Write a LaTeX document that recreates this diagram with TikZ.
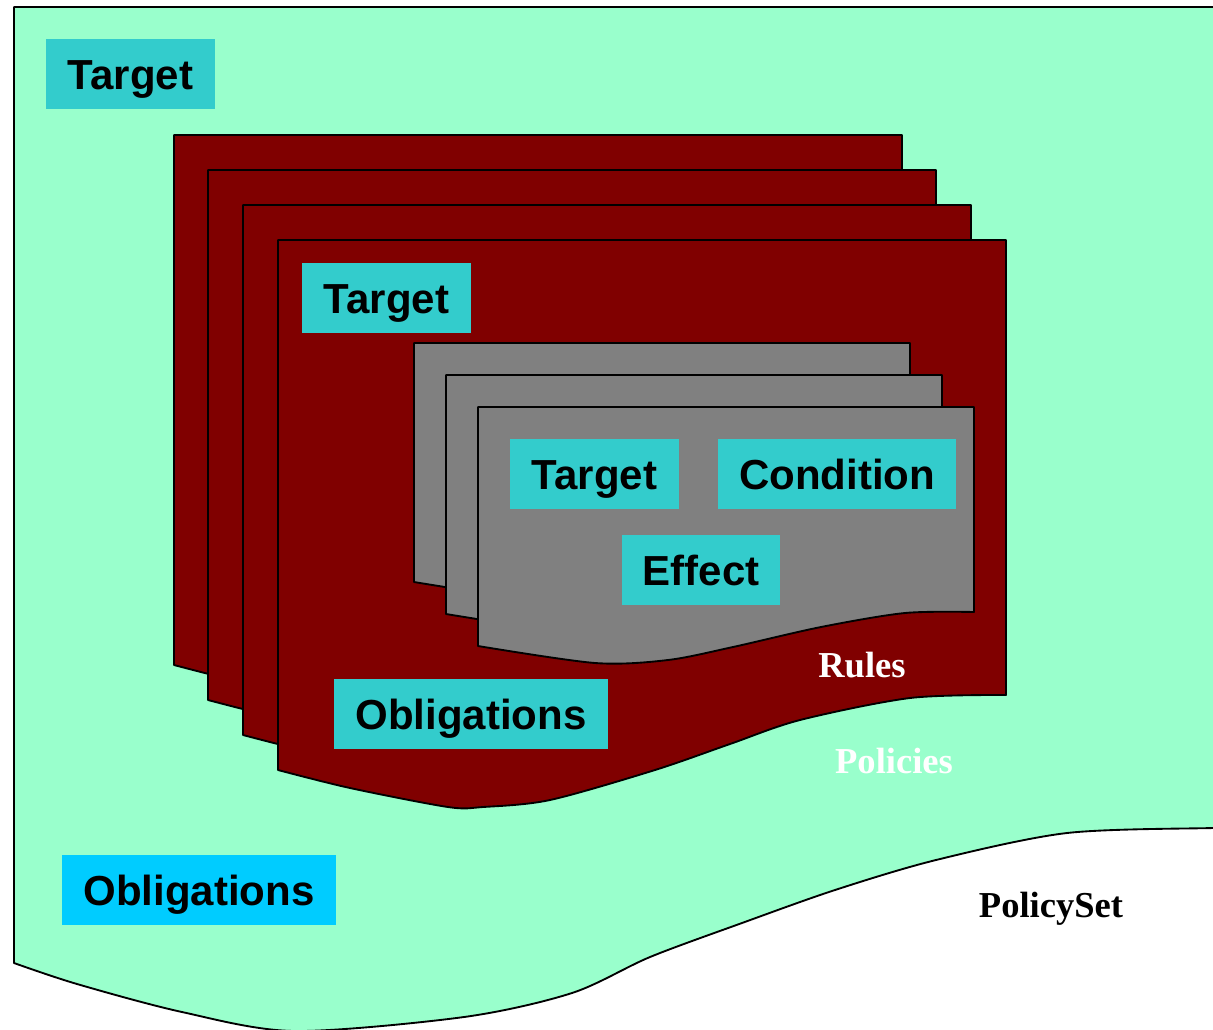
\documentclass[tikz,border=0pt]{standalone}
\usepackage{fontspec}
\setmainfont{Liberation Serif}
\newfontfamily\arialfont{Liberation Sans}
\definecolor{psetgreen}{HTML}{99FFCC}
\definecolor{polred}{HTML}{800000}
\definecolor{rulegrey}{HTML}{808080}
\definecolor{boxcyan}{HTML}{33CCCC}
\definecolor{boxblue}{HTML}{00CCFF}
\begin{document}
\begin{tikzpicture}[x=0.75pt,y=-0.75pt,
  outline/.style={draw=black,line width=1.4pt,line join=round},
  policy/.style={outline,fill=polred},
  rulecard/.style={outline,fill=rulegrey},
  lbl/.style={fill=boxcyan,inner sep=0pt,minimum height=52.5pt,
    font=\arialfont\bfseries\fontsize{31.5pt}{36pt}\selectfont,
    text height=23pt,text depth=0pt,align=center},
  tag/.style={inner sep=0pt,font=\bfseries\fontsize{27.4pt}{32pt}\selectfont,
    text height=18pt,text depth=0pt}]
\useasboundingbox (0,0) rectangle (1213,1029);
\begin{scope}
\clip (0,0) rectangle (1213,1029);
% PolicySet area
\fill[psetgreen] (14,7) -- (1220,7) -- (1220,828) -- plot[smooth,tension=0.5] coordinates {(1213,828) (1067,833) (936,860) (835,890) (742,923) (650,957) (572,993) (464,1017) (294,1031) (182,1012) (77,984) (14,963)} -- cycle;
\draw[outline] (1220,7) -- (14,7) -- (14,963) -- plot[smooth,tension=0.5] coordinates {(14,963) (77,984) (182,1012) (294,1031) (464,1017) (572,993) (650,957) (742,923) (835,890) (936,860) (1067,833) (1213,828) (1220,828)};
\end{scope}
% Policies
\foreach \dx/\dy in {-104/-105, -70/-70, -35/-35, 0/0} {
  \filldraw[policy, shift={(\dx,\dy)}] (278,240) -- (1006,240) -- (1006,695) -- plot[smooth,tension=0.5] coordinates {(1006,695) (910,698) (800,720) (730,744) (655,770) (550,800) (483,807) (448,807) (350,788) (278,770)} -- cycle;
}
% Rules
\foreach \dd in {-64, -32, 0} {
  \filldraw[rulecard, shift={(\dd,\dd)}] (478,407) -- (974,407) -- (974,612) -- plot[smooth,tension=0.5] coordinates {(974,612) (905,613) (821,627) (733,647) (668,660) (595,663) (478,646)} -- cycle;
}
% labels
\node[lbl,minimum width=126.75pt] (target1) at (130.5,74) {Target};
\node[lbl,minimum width=126.75pt] (target2) at (386.5,298) {Target};
\node[lbl,minimum width=126.75pt] (target3) at (594.5,474) {Target};
\node[lbl,minimum width=178.5pt] (condition) at (837,474) {Condition};
\node[lbl,minimum width=118.5pt] (effect) at (701,570) {Effect};
\node[lbl,minimum width=205.5pt] (obl1) at (471,714) {Obligations};
\node[lbl,fill=boxblue,minimum width=205.5pt] (obl2) at (199,890) {Obligations};
\node[tag,text=white] (rules) at (862,665) {Rules};
\node[tag,text=white] (policies) at (894,761) {Policies};
\node[tag,text=black] (policyset) at (1051,905) {PolicySet};
\end{tikzpicture}
\end{document}
